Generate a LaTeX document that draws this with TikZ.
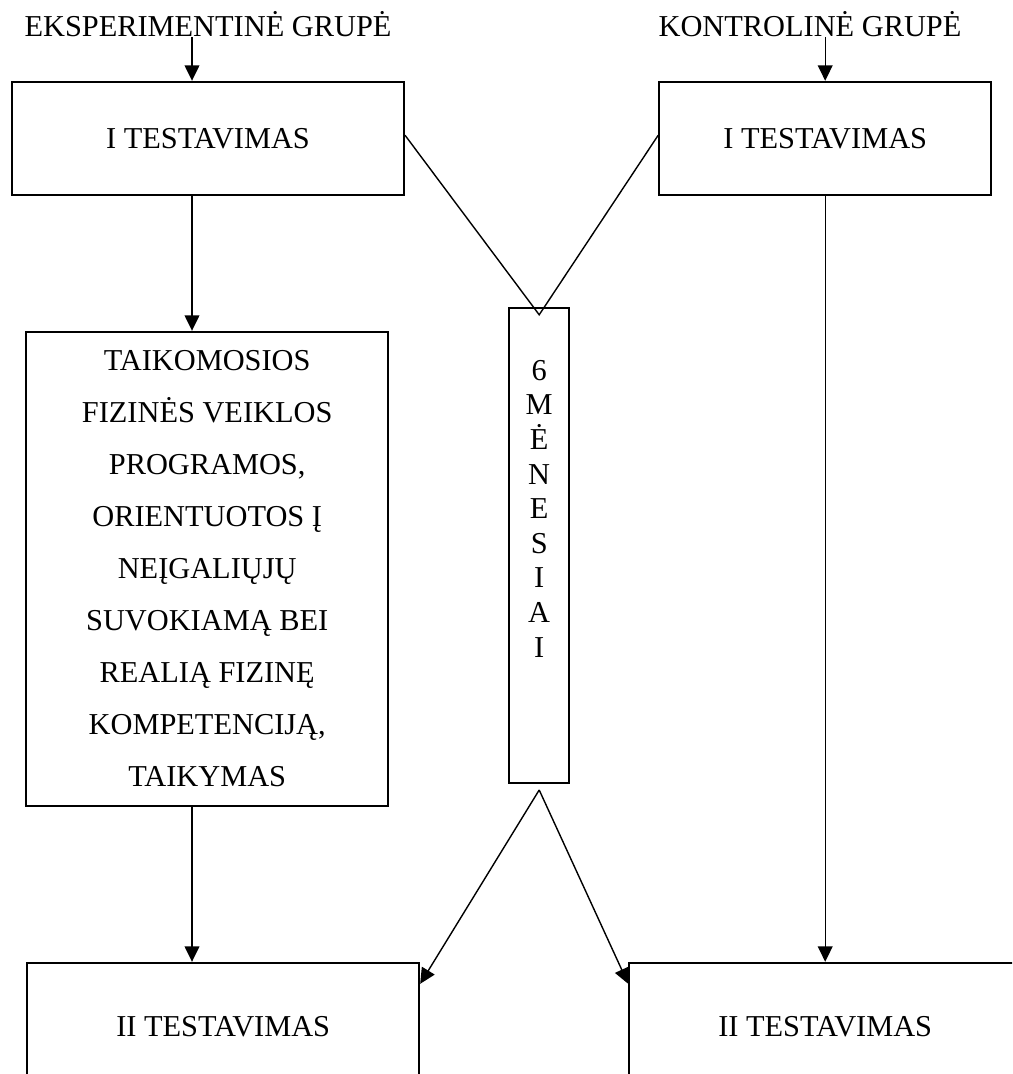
\documentclass[tikz,border=0pt]{standalone}
\usepackage{fontspec}
\setmainfont{Liberation Serif}
\usetikzlibrary{arrows.meta}

\begin{document}
\begin{tikzpicture} [scale = 1,
  txt/.style = {black, font = \fontsize{21.6}{37}\selectfont},
  box/.style = {draw = black, line width = 1.4pt, align = center, inner sep = 0pt},
  conn/.style = {black, line width = 1pt},
  arr/.style = {-{Triangle[length = 11pt, width = 10.5pt]}, black, line width = 1pt}]
\useasboundingbox (0, 0) rectangle (25.3, 26.85);
\clip (0, 0) rectangle (25.3, 26.85);
\node[txt, anchor = base] (eksgrp) at (5.2, 25.93){EKSPERIMENTINĖ GRUPĖ};
\node[txt, anchor = base] (kongrp) at (20.25, 25.93){KONTROLINĖ GRUPĖ};
\node[txt, box, minimum width = 9.8cm, minimum height = 2.83cm] (ltest) at (5.2, 23.39){I TESTAVIMAS};
\node[txt, box, minimum width = 8.3cm, minimum height = 2.83cm] (rtest) at (20.63, 23.39){I TESTAVIMAS};
\node[txt, box, minimum width = 9.05cm, minimum height = 11.85cm] (lprog) at (5.18, 12.63){TAIKOMOSIOS\\FIZINĖS VEIKLOS\\PROGRAMOS,\\ORIENTUOTOS Į\\NEĮGALIŲJŲ\\SUVOKIAMĄ BEI\\REALIĄ FIZINĘ\\KOMPETENCIJĄ,\\TAIKYMAS};
\node[box, minimum width = 1.5cm, minimum height = 11.88cm] (months) at (13.48, 13.21){};
\node[txt, align = center, anchor = north, inner sep = 0pt, font = \fontsize{21.6}{24.6}\selectfont] (monthstxt) at (13.48, 17.85){6\\M\\Ė\\N\\E\\S\\I\\A\\I};
\node[txt, box, minimum width = 9.8cm, minimum height = 3.2cm] (lfinal) at (5.58, 1.18){II TESTAVIMAS};
\node[txt, box, minimum width = 9.8cm, minimum height = 3.2cm] (rfinal) at (20.63, 1.18){II TESTAVIMAS};
\coordinate (lx) at (4.8, 0);
\coordinate (topv) at (13.48, 18.98);
\coordinate (botv) at (13.48, 7.1);
\draw[arr] (eksgrp.base -| lx) -- (ltest.north -| lx);
\draw[arr] (kongrp.base -| rtest.north) -- (rtest.north);
\draw[arr] (ltest.south -| lx) -- (lprog.north -| lx);
\draw[arr] (lprog.south -| lx) -- (lfinal.north -| lx);
\draw[arr] (rtest.south) -- (rfinal.north);
\draw[conn] ([yshift = 0.08cm]ltest.east) -- (topv) -- ([yshift = 0.08cm]rtest.west);
\draw[arr] (botv) -- ([yshift = -0.55cm]lfinal.north east);
\draw[arr] (botv) -- ([yshift = -0.55cm]rfinal.north west);
\end{tikzpicture}
\end{document}
